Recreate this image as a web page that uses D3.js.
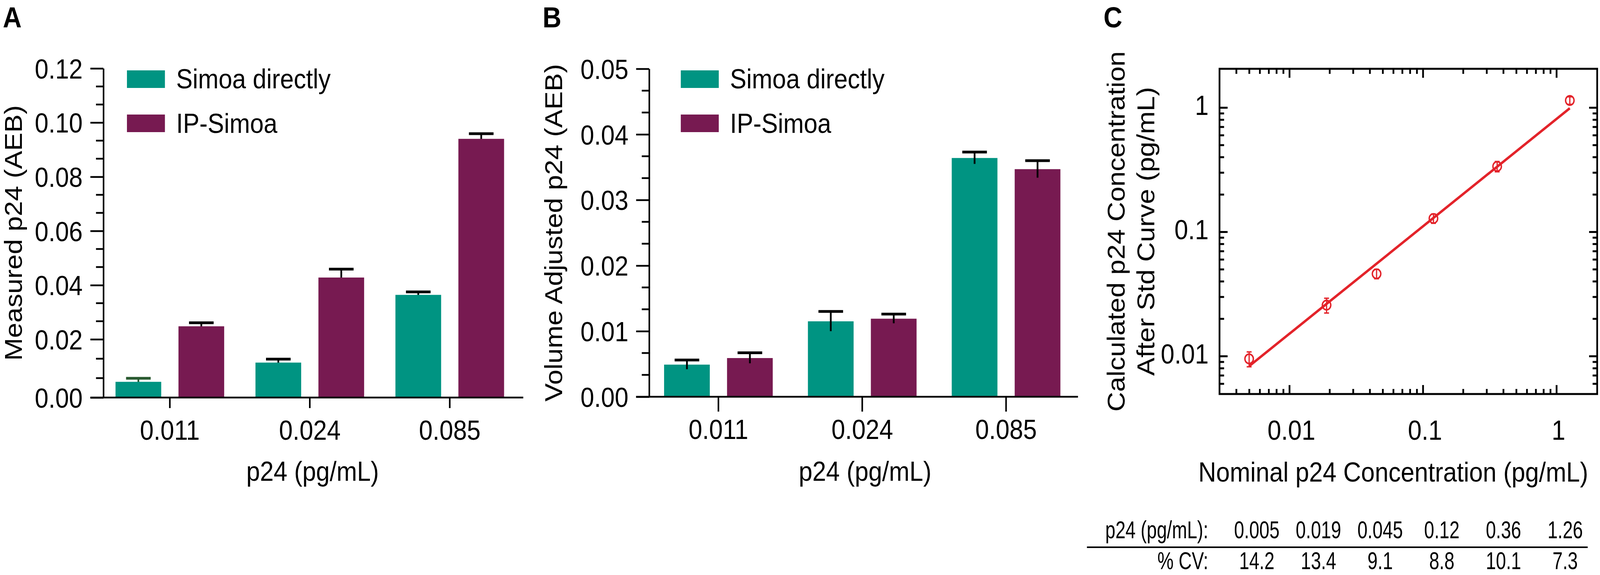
<!DOCTYPE html>
<html><head><meta charset="utf-8">
<script src="https://cdn.jsdelivr.net/npm/d3@7"></script>
<style>
html,body{margin:0;padding:0;background:#fff;width:100%;height:100%;overflow:hidden;}
svg{display:block;width:100vw;height:100vh;}
text{font-family:"Liberation Sans",Arial,Helvetica,sans-serif;fill:#000;}
</style></head><body>
<svg id="chart" viewBox="0 0 4550 1471" preserveAspectRatio="none"></svg>
<script>
// ---------------- DATA ----------------
const groups = ["0.011", "0.024", "0.085"];
const seriesNames = ["Simoa directly", "IP-Simoa"];
// Panel A: measured p24 (AEB)
const measuredSimoa    = [0.0054, 0.0120, 0.0364];
const measuredSimoaErr = [0.0012, 0.0012, 0.0011];
const measuredIP       = [0.0248, 0.0428, 0.0940];
const measuredIPErr    = [0.0013, 0.0031, 0.0019];
// Panel B: volume adjusted p24 (AEB)
const adjustedSimoa    = [0.0049, 0.0115, 0.0364];
const adjustedSimoaErr = [0.0007, 0.0015, 0.0009];
const adjustedIP       = [0.0059, 0.0119, 0.0347];
const adjustedIPErr    = [0.0008, 0.0007, 0.0013];
const yTicksA = [0, 0.02, 0.04, 0.06, 0.08, 0.10, 0.12];
const yTicksB = [0, 0.01, 0.02, 0.03, 0.04, 0.05];
// Panel C: calculated vs nominal (log-log)
const nominal        = [0.005, 0.019, 0.045, 0.12, 0.36, 1.26];
const nominalLabels  = ["0.005", "0.019", "0.045", "0.12", "0.36", "1.26"];
const calculated     = [0.0095, 0.0257, 0.0459, 0.128, 0.336, 1.14];
const calculatedErr  = [0.0013, 0.0035, 0.0040, 0.011, 0.032, 0.080];
const cvLabels       = ["14.2", "13.4", "9.1", "8.8", "10.1", "7.3"];
const fitLine        = [{x: 0.005, y: 0.0083}, {x: 1.26, y: 0.987}];
const xTicksC = [0.01, 0.1, 1];
const yTicksC = [0.01, 0.1, 1];

// ---------------- STYLE ----------------
const TEAL = "#009482", PURPLE = "#771a51", RED = "#e3232a";
const FS = 70;
const svg = d3.select("#chart");

function panelLetter(t, x) {
  svg.append("text").attr("x", x).attr("y", 70).attr("font-size", 74)
     .attr("font-weight", "bold").text(t);
}

function barPanel(cfg) {
  const g = svg.append("g");
  const y = cfg.y;
  const x0 = d3.scaleBand().domain(groups).range(cfg.xRange).paddingInner(0).paddingOuter(0);
  const pairW = 309;
  const x1 = d3.scaleBand().domain(seriesNames)
    .range([(x0.bandwidth() - pairW) / 2, (x0.bandwidth() + pairW) / 2])
    .paddingInner(0.274).paddingOuter(0);
  const series = [
    {name: seriesNames[0], vals: cfg.v0, errs: cfg.e0, color: TEAL, errColor: cfg.errColor0},
    {name: seriesNames[1], vals: cfg.v1, errs: cfg.e1, color: PURPLE, errColor: () => "#000"}
  ];
  const y0 = y(0);

  const drawErr = () => {
    series.forEach(s => {
      const eg = g.append("g");
      groups.forEach((grp, i) => {
        const cx = x0(grp) + x1(s.name) + x1.bandwidth() / 2;
        const col = s.errColor(i);
        eg.append("line").attr("x1", cx).attr("x2", cx)
          .attr("y1", y(s.vals[i] - s.errs[i])).attr("y2", y(s.vals[i] + s.errs[i]))
          .attr("stroke", col).attr("stroke-width", 5);
        eg.append("line").attr("x1", cx - 35).attr("x2", cx + 35)
          .attr("y1", y(s.vals[i] + s.errs[i])).attr("y2", y(s.vals[i] + s.errs[i]))
          .attr("stroke", col).attr("stroke-width", 7);
      });
    });
  };
  if (!cfg.errOnTop) drawErr();
  series.forEach(s => {
    g.append("g").selectAll("rect").data(groups).join("rect")
      .attr("x", d => x0(d) + x1(s.name))
      .attr("width", x1.bandwidth())
      .attr("y", (d, i) => y(s.vals[i]))
      .attr("height", (d, i) => y0 - y(s.vals[i]))
      .attr("fill", s.color);
  });
  if (cfg.errOnTop) drawErr();

  // y axis
  const ax = g.append("g").attr("transform", `translate(${cfg.axisX},0)`);
  ax.call(d3.axisLeft(y).tickValues(cfg.yTicks).tickSize(37).tickSizeOuter(0)
      .tickPadding(22).tickFormat(d3.format(".2f")));
  ax.append("g").selectAll("line").data(cfg.minor).join("line")
    .attr("x1", -21).attr("x2", 0).attr("y1", d => y(d)).attr("y2", d => y(d))
    .attr("stroke", "#000").attr("stroke-width", 4.5);
  ax.selectAll(".tick line").attr("stroke-width", 4.5);
  ax.select(".domain").attr("stroke-width", 4.5);
  ax.selectAll("text").attr("font-size", FS).attr("font-family", null).attr("dy", "0.36em");

  // x axis
  g.append("line").attr("x1", cfg.axisX - 37).attr("x2", cfg.xRange[1] + (cfg.xAxisExtra || 0))
    .attr("y1", y0).attr("y2", y0).attr("stroke", "#000").attr("stroke-width", 4.5);
  const bx = g.append("g").attr("transform", `translate(0,${y0})`);
  bx.call(d3.axisBottom(x0).tickSize(cfg.xTickLen).tickSizeOuter(0).tickPadding(58 - cfg.xTickLen));
  bx.select(".domain").remove();
  bx.selectAll(".tick line").attr("stroke-width", 4.5);
  bx.selectAll("text").attr("font-size", FS).attr("font-family", null);

  // axis titles
  g.append("text").attr("x", (cfg.xRange[0] + cfg.xRange[1]) / 2 + 8).attr("y", 1230)
    .attr("text-anchor", "middle").attr("font-size", FS).text("p24 (pg/mL)");
  g.append("text").attr("transform", `translate(${cfg.yTitleX},${(y(0) + y(cfg.yTicks[cfg.yTicks.length - 1])) / 2}) rotate(-90)`)
    .attr("text-anchor", "middle").attr("font-size", FS).text(cfg.yTitle);

  // legend
  const lg = g.append("g");
  series.forEach((s, i) => {
    lg.append("rect").attr("x", cfg.legendX).attr("y", 180 + i * 113).attr("width", 108).attr("height", 45)
      .attr("fill", s.color);
    lg.append("text").attr("x", cfg.legendX + 140).attr("y", 226 + i * 114).attr("font-size", FS).text(s.name);
  });
}

// ---------------- PANEL A ----------------
panelLetter("A", 8);
barPanel({
  y: d3.scaleLinear().domain([0, 0.02, 0.12]).range([1017, 868, 175]),
  xRange: [284, 1478], xAxisExtra: 10, axisX: 294, xTickLen: 27,
  v0: measuredSimoa, e0: measuredSimoaErr, v1: measuredIP, e1: measuredIPErr,
  errColor0: i => (i === 0 ? "#2a5a30" : "#000"),
  yTicks: yTicksA, minor: d3.range(1, 18).filter(k => k % 3 !== 0).map(k => k * 0.02 / 3),
  yTitle: "Measured p24 (AEB)", yTitleX: 62, legendX: 361, errOnTop: false
});

// ---------------- PANEL B ----------------
panelLetter("B", 1543);
barPanel({
  y: d3.scaleLinear().domain([0, 0.05]).range([1015, 176]),
  xRange: [1838.5, 3065.5], xAxisExtra: 0, axisX: 1846, xTickLen: 38,
  v0: adjustedSimoa, e0: adjustedSimoaErr, v1: adjustedIP, e1: adjustedIPErr,
  errColor0: () => "#000",
  yTicks: yTicksB, minor: d3.range(1, 15).filter(k => k % 3 !== 0).map(k => k * 0.01 / 3),
  yTitle: "Volume Adjusted p24 (AEB)", yTitleX: 1598, legendX: 1936, errOnTop: true
});

// ---------------- PANEL C ----------------
panelLetter("C", 3138);
const xC = d3.scaleLog().domain([0.003, 2.02]).range([3468, 4542]);
const yC = d3.scaleLog().domain([0.00495, 2.05]).range([1008, 176]);
const gC = svg.append("g");
const xL = xC.range()[0], xR = xC.range()[1], yB = yC.range()[0], yT = yC.range()[1];
const inside = (s, v, m) => { const p = s(v); const r = s.range(); return p > Math.min(...r) + m && p < Math.max(...r) - m; };
const xMinor = xC.ticks().filter(v => !xTicksC.some(t => Math.abs(t - v) < 1e-9) && inside(xC, v, 6));
const yMinor = yC.ticks().filter(v => !yTicksC.some(t => Math.abs(t - v) < 1e-9) && inside(yC, v, 6));

function styleAxis(sel) {
  sel.select(".domain").remove();
  sel.selectAll(".tick line").attr("stroke-width", 5);
  sel.selectAll("text").remove();
}
[[d3.axisBottom, `translate(0,${yB})`, xC, xTicksC, xMinor],
 [d3.axisTop, `translate(0,${yT})`, xC, xTicksC, xMinor],
 [d3.axisLeft, `translate(${xL},0)`, yC, yTicksC, yMinor],
 [d3.axisRight, `translate(${xR},0)`, yC, yTicksC, yMinor]].forEach(([fn, tr, sc, maj, mn]) => {
  gC.append("g").attr("transform", tr).call(fn(sc).tickValues(maj).tickSize(-23).tickSizeOuter(0)).call(styleAxis);
  gC.append("g").attr("transform", tr).call(fn(sc).tickValues(mn).tickSize(-13).tickSizeOuter(0)).call(styleAxis);
});
gC.append("rect").attr("x", xL).attr("y", yT).attr("width", xR - xL).attr("height", yB - yT)
  .attr("fill", "none").attr("stroke", "#000").attr("stroke-width", 5);

const fmtC = d => (d >= 1 ? d3.format("d")(d) : String(d));
gC.append("g").selectAll("text").data(xTicksC).join("text")
  .attr("x", d => xC(d) + 6).attr("y", 1125).attr("text-anchor", "middle").attr("font-size", FS).text(fmtC);
gC.append("g").selectAll("text").data(yTicksC).join("text")
  .attr("x", xL - 31).attr("y", d => yC(d) - 6).attr("dy", "0.36em").attr("text-anchor", "end")
  .attr("font-size", FS).text(fmtC);

// fit line
gC.append("path").datum(fitLine)
  .attr("d", d3.line().x(d => xC(d.x)).y(d => yC(d.y)))
  .attr("fill", "none").attr("stroke", RED).attr("stroke-width", 6.5);
// error bars + points
const pts = gC.append("g");
nominal.forEach((nx, i) => {
  const cx = xC(nx);
  const yHi = yC(calculated[i] + calculatedErr[i]), yLo = yC(calculated[i] - calculatedErr[i]);
  pts.append("line").attr("x1", cx).attr("x2", cx).attr("y1", yHi).attr("y2", yLo)
    .attr("stroke", RED).attr("stroke-width", 3.5);
  [yHi, yLo].forEach(yy => pts.append("line").attr("x1", cx - 7).attr("x2", cx + 7)
    .attr("y1", yy).attr("y2", yy).attr("stroke", RED).attr("stroke-width", 3.5));
});
pts.selectAll("circle").data(nominal).join("circle")
  .attr("cx", d => xC(d)).attr("cy", (d, i) => yC(calculated[i])).attr("r", 12)
  .attr("fill", "none").attr("stroke", RED).attr("stroke-width", 4);

// axis titles C
gC.append("text").attr("x", 3962).attr("y", 1232).attr("text-anchor", "middle")
  .attr("font-size", FS).text("Nominal p24 Concentration (pg/mL)");
const yMid = (yT + yB) / 2;
gC.append("text").attr("transform", `translate(3198,${yMid}) rotate(-90)`).attr("text-anchor", "middle")
  .attr("font-size", FS).text("Calculated p24 Concentration");
gC.append("text").attr("transform", `translate(3283,${yMid}) rotate(-90)`).attr("text-anchor", "middle")
  .attr("font-size", FS).text("After Std Curve (pg/mL)");

// table (condensed lettering, like the reference's narrow font)
const tbl = svg.append("g");
const colX = d3.scalePoint().domain(nominalLabels).range([3574, 4451]);
const rowY = [1377, 1456];
const NARROW = 0.82, TFS = 63;
function tText(x, y, anchor, str) {
  tbl.append("text").attr("transform", `translate(${x},${y}) scale(${NARROW},1)`)
    .attr("text-anchor", anchor).attr("font-size", TFS).text(str);
}
tText(3436, rowY[0], "end", "p24 (pg/mL):");
tText(3436, rowY[1], "end", "% CV:");
nominalLabels.forEach(d => tText(colX(d), rowY[0], "middle", d));
cvLabels.forEach((d, i) => tText(colX(nominalLabels[i]), rowY[1], "middle", d));
tbl.append("line").attr("x1", 3091).attr("x2", 4515).attr("y1", 1400).attr("y2", 1400)
  .attr("stroke", "#000").attr("stroke-width", 4);
</script>
</body></html>
